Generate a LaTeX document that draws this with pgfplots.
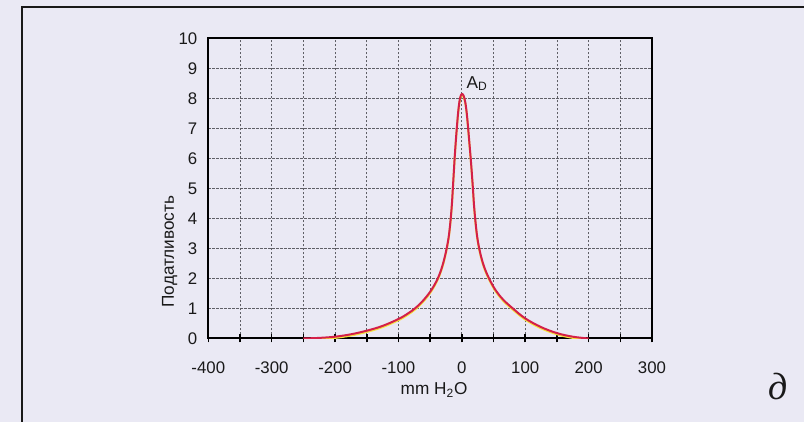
\documentclass[border=0pt]{standalone}
\usepackage{fontspec}
\setmainfont{Liberation Sans}
\newfontfamily\serifcyr{Liberation Serif}
\usepackage{pgfplots}
\pgfplotsset{compat=1.18}
\usepackage{pgfplotstable}

\definecolor{paper}{RGB}{234,233,244}
\definecolor{curvered}{RGB}{212,32,72}
\definecolor{curveyel}{RGB}{246,226,60}
\definecolor{gridgray}{RGB}{95,95,102}

% compliance curve
\pgfplotstableread{
x y
-250 0.00
-225 0.02
-200 0.06
-175 0.14
-150 0.26
-125 0.42
-100 0.65
-86 0.82
-73 1.02
-60 1.29
-48 1.62
-38 2.00
-31 2.40
-25.5 2.85
-21 3.35
-18 3.90
-15.8 4.45
-14.2 5.00
-12.8 5.50
-11.4 6.00
-9.8 6.50
-8 7.00
-6 7.50
-4 7.87
-2 8.08
0.5 8.15
3 8.08
5.5 7.87
7.8 7.50
10 7.00
12 6.50
14 6.00
15.8 5.50
17.5 5.00
19.2 4.45
21.5 3.90
24.5 3.35
29 2.85
35 2.40
43 2.00
53 1.62
65 1.30
80 1.01
100 0.67
125 0.38
150 0.18
175 0.06
200 0.00
}\compliance

\begin{document}
\begin{tikzpicture}
\path[use as bounding box] (0,0) rectangle (402pt,211pt);
\fill[paper] (0,0) rectangle (402pt,211pt);
\draw[line width=1pt, black!90] (11pt,0) -- (11pt,207.5pt) -- (402pt,207.5pt);
\begin{axis}[
    at={(104.15pt,41.75pt)},
    anchor=south west,
    scale only axis,
    width=221.85pt,
    height=150pt,
    xmin=-400, xmax=300,
    ymin=0, ymax=10,
    xtick={-400,-300,-200,-100,0,100,200,300},
    xticklabels={-400,-300,-200,-100,0,100,200,300},
    minor xtick={-350,-250,-150,-50,50,150,250},
    ytick={0,1,...,10},
    xtick pos=bottom,
    tick align=center,
    major tick length=4pt,
    minor tick length=4pt,
    every tick/.style={black, line width=0.8pt},
    ytick style={draw=none},
    grid=both,
    major grid style={gridgray, line width=0.35pt, dash pattern=on 1.2pt off 0.8pt},
    minor grid style={gridgray, line width=0.35pt, dash pattern=on 1.2pt off 0.8pt},
    axis line style={black, line width=1pt},
    /pgf/number format/assume math mode=true,
    tick label style={font=\fontsize{8.4}{10}\selectfont, black!90},
    xticklabel style={yshift=-6pt},
    xlabel={mm H\textsubscript{2}O},
    ylabel={Податливость},
    label style={font=\fontsize{8.6}{10}\selectfont, black!90},
    xlabel style={at={(axis description cs:0.509,-0.172)}, anchor=center},
    ylabel style={at={(axis description cs:-0.087,0.29)}, anchor=center},
]
\addplot[curveyel, line width=1pt, smooth, tension=0.6, yshift=-0.6pt] table[x=x, y=y] {\compliance};
\addplot[curvered, line width=1pt, smooth, tension=0.6] table[x=x, y=y] {\compliance};
\node[anchor=base west, inner sep=0, font=\fontsize{8.6}{10}\selectfont, black!90] at (axis cs:7,8.33) {A\textsubscript{D}};
\end{axis}
\node[font=\fontsize{19}{20}\selectfont\serifcyr\itshape, black!90] at (389.25pt,17.75pt) {д};
\end{tikzpicture}
\end{document}
